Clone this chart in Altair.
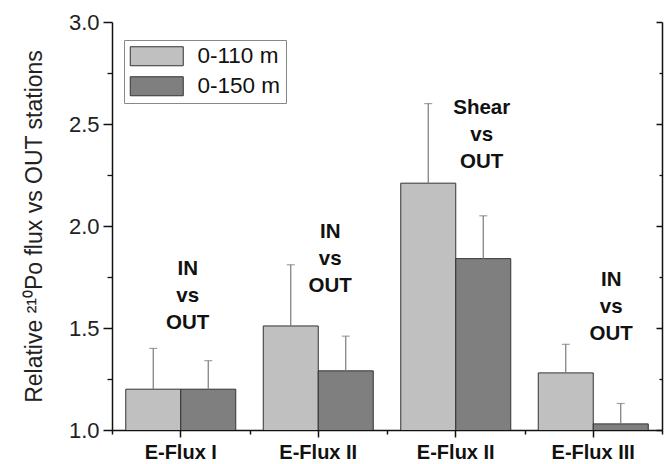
import altair as alt
import pandas as pd

group_ids = ["g1", "g2", "g3", "g4"]
group_labels = ["E-Flux I", "E-Flux II", "E-Flux II", "E-Flux III"]
series = ["0-110 m", "0-150 m"]
flux_110 = [1.20, 1.51, 2.21, 1.28]
err_110 = [0.20, 0.30, 0.39, 0.14]
flux_150 = [1.20, 1.29, 1.84, 1.03]
err_150 = [0.14, 0.17, 0.21, 0.10]
ann_text = ["IN\nvs\nOUT", "IN\nvs\nOUT", "Shear\nvs\nOUT", "IN\nvs\nOUT"]
ann_y = [1.789, 1.971, 2.578, 1.735]
y_ticks = [1.0, 1.5, 2.0, 2.5, 3.0]
y_minor = [1.25, 1.75, 2.25, 2.75]

rows = []
for i, g in enumerate(group_ids):
    rows.append({"group": g, "series": series[0], "value": flux_110[i], "upper": flux_110[i] + err_110[i]})
    rows.append({"group": g, "series": series[1], "value": flux_150[i], "upper": flux_150[i] + err_150[i]})
df = pd.DataFrame(rows)

FONT = "Liberation Sans"
label_map = "{" + ",".join(f"'{g}':'{l}'" for g, l in zip(group_ids, group_labels)) + "}"

xscale = alt.Scale(domain=group_ids, paddingInner=0, paddingOuter=0)
yscale = alt.Scale(domain=[1, 3], nice=False, zero=False)
xoff = alt.XOffset("series:N", sort=series,
                   scale=alt.Scale(domain=series, paddingInner=0, paddingOuter=0.25))

base = alt.Chart(df)

bars = base.mark_bar(stroke="#333333", strokeWidth=1, clip=True).encode(
    x=alt.X("group:N", scale=xscale, sort=group_ids, title=None,
            axis=alt.Axis(orient="bottom", labelExpr=label_map + "[datum.value]", labelAngle=0,
                          labelFont=FONT, labelFontSize=20, labelFontWeight="bold",
                          labelColor="#111", labelPadding=5, tickSize=7, tickWidth=1.5,
                          tickColor="#111", domainColor="#111", domainWidth=1.5)),
    xOffset=xoff,
    y=alt.Y("value:Q", scale=yscale,
            title="Relative ²¹⁰Po flux vs OUT stations",
            axis=alt.Axis(orient="left", values=y_ticks, format=".1f", tickSize=9,
                          tickWidth=1.5, tickColor="#111", domainColor="#111",
                          domainWidth=1.5, labelFont=FONT, labelFontSize=22,
                          labelColor="#222", labelPadding=4, titleFont=FONT,
                          titleFontSize=23, titleFontWeight="normal",
                          titleColor="#222", titlePadding=22, grid=False)),
    color=alt.Color("series:N", scale=alt.Scale(domain=series, range=["#c0c0c0", "#7f7f7f"]),
                    legend=alt.Legend(title=None, orient="none", legendX=12, legendY=18,
                                      symbolType="M-1,-0.95L4.3,-0.95L4.3,0.95L-1,0.95Z",
                                      symbolSize=400, symbolStrokeColor="#333",
                                      symbolStrokeWidth=1, symbolOpacity=1,
                                      labelFont=FONT, labelFontSize=22.5, labelColor="#111",
                                      labelOffset=46, rowPadding=6, padding=5,
                                      strokeColor="#888", fillColor="white")),
)

rules = base.mark_rule(color="#7a7a7a", strokeWidth=1.2).encode(
    x=alt.X("group:N", scale=xscale, sort=group_ids, title=None,
            axis=alt.Axis(orient="bottom", tickBand="extent", labels=False, domain=False,
                          tickSize=4, tickWidth=1.5, tickColor="#111")),
    xOffset=xoff,
    y=alt.Y("value:Q", scale=yscale, title=None,
            axis=alt.Axis(orient="left", values=y_minor, labels=False, domain=False,
                          tickSize=5, tickWidth=1.3, tickColor="#111", grid=False)),
    y2="upper:Q",
)

caps = base.mark_tick(color="#7a7a7a", orient="horizontal", size=8, thickness=1.2).encode(
    x=alt.X("group:N", scale=xscale, sort=group_ids, title=None, axis=None),
    xOffset=xoff,
    y=alt.Y("upper:Q", scale=yscale, title=None,
            axis=alt.Axis(orient="right", ticks=False, labels=False, domain=True,
                          domainColor="#111", domainWidth=1.5, grid=False)),
)

ann_dx = [7, 12, 26, 18]
right_axes = [
    alt.Axis(orient="right", values=y_ticks, offset=-6, tickSize=6, tickWidth=1.5,
             tickColor="#111", labels=False, domain=False, grid=False),
    alt.Axis(orient="right", values=y_minor, offset=-3, tickSize=3, tickWidth=1.3,
             tickColor="#111", labels=False, domain=False, grid=False),
    None,
    None,
]
texts = []
for i, g in enumerate(group_ids):
    tdf = pd.DataFrame({"group": [g], "label": [ann_text[i]], "y": [ann_y[i]]})
    t = alt.Chart(tdf).mark_text(font=FONT, fontSize=20.5, fontWeight="bold", color="#111",
                                 lineBreak="\n", lineHeight=27, baseline="middle",
                                 align="center", dx=ann_dx[i]).encode(
        x=alt.X("group:N", scale=xscale, sort=group_ids, title=None, axis=None),
        y=alt.Y("y:Q", scale=yscale, title=None, axis=right_axes[i]),
        text="label:N",
    )
    texts.append(t)

chart = alt.layer(bars, rules, caps, *texts).resolve_axis(
    x="independent", y="independent"
).properties(
    width=550, height=408,
    autosize=alt.AutoSizeParams(type="none"),
    padding={"left": 112, "top": 22, "right": 2, "bottom": 34},
).configure_view(stroke=None)

chart.save("out.html", embed_options={"renderer": "svg", "actions": False})
